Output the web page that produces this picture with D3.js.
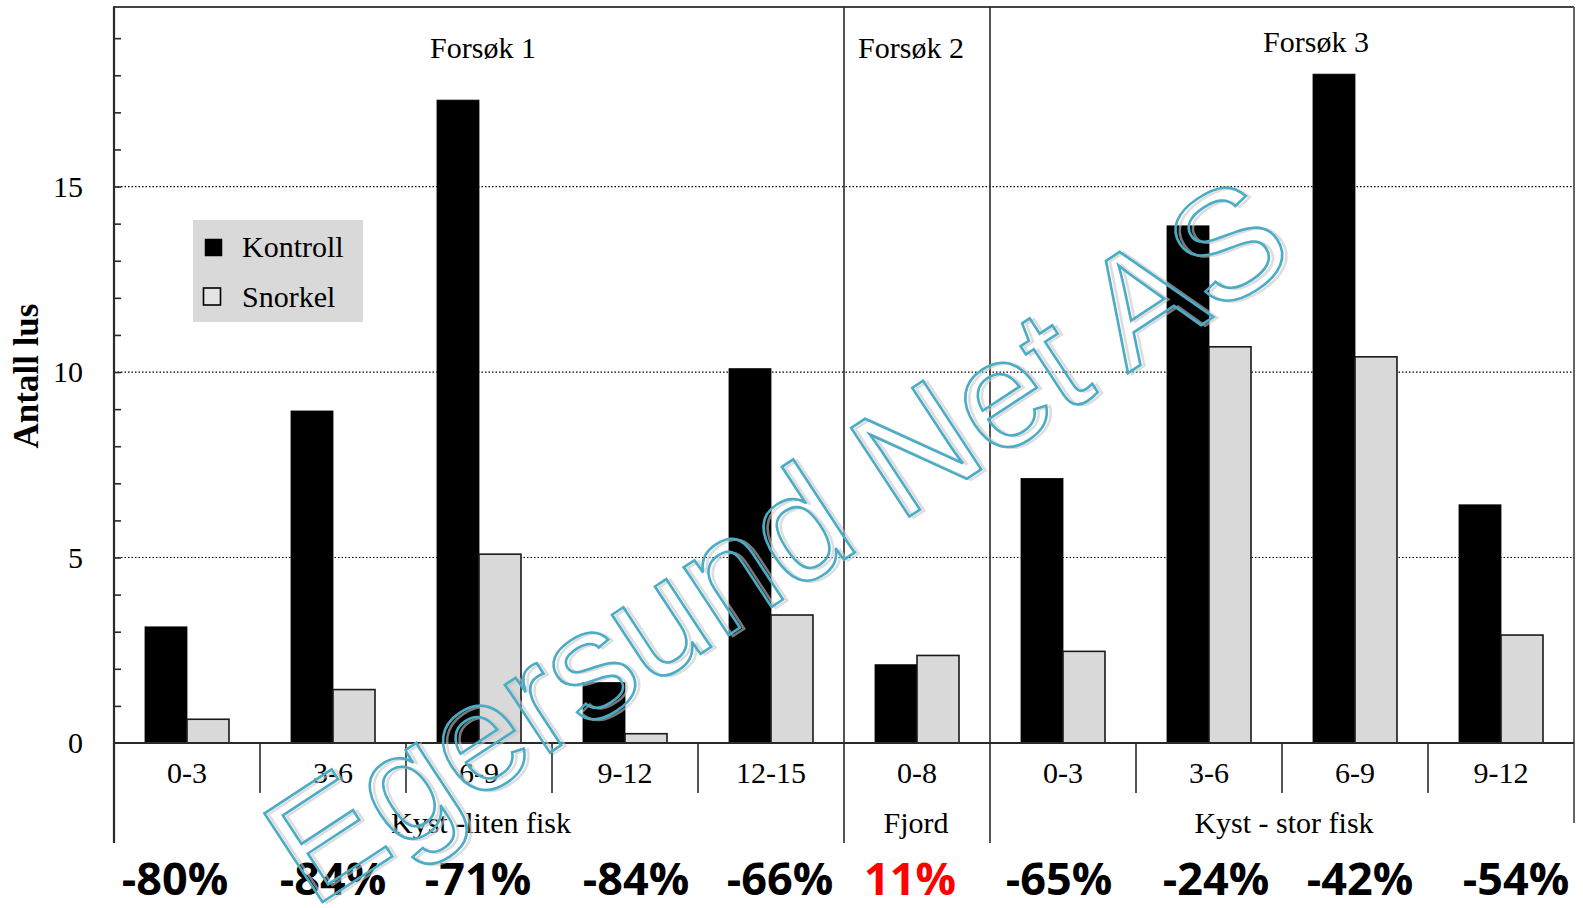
<!DOCTYPE html>
<html>
<head>
<meta charset="utf-8">
<script src="https://cdn.jsdelivr.net/npm/d3@7"></script>
<style>
  html, body { margin: 0; padding: 0; background: #ffffff; }
  svg { display: block; }
</style>
</head>
<body>
<svg id="chart" width="1583" height="908"></svg>
<script>
// ---------- data ----------
const groups = ["Forsøk 1", "Forsøk 2", "Forsøk 3"];
const groupSites = ["Kyst -liten fisk", "Fjord", "Kyst - stor fisk"];
const categories = ["0-3", "3-6", "6-9", "9-12", "12-15", "0-8", "0-3", "3-6", "6-9", "9-12"];
const categoryGroup = [0, 0, 0, 0, 0, 1, 2, 2, 2, 2];
const seriesNames = ["Kontroll", "Snorkel"];
const kontroll = [3.13, 8.95, 17.33, 1.63, 10.09, 2.11, 7.13, 13.94, 18.03, 6.42];
const snorkel = [0.64, 1.44, 5.09, 0.25, 3.45, 2.36, 2.47, 10.68, 10.41, 2.91];
const changes = ["-80%", "-84%", "-71%", "-84%", "-66%", "11%", "-65%", "-24%", "-42%", "-54%"];
const yTicks = [0, 5, 10, 15];
const yMinorTicks = [1, 2, 3, 4, 6, 7, 8, 9, 11, 12, 13, 14, 16, 17, 18, 19];
const watermarkText = "Egersund Net AS";

// ---------- layout ----------
const L = 114, R = 1574, T = 7, B = 743;
const serif = "'Liberation Serif', 'Times New Roman', serif";
const svg = d3.select("#chart");

const x = d3.scaleBand().domain(d3.range(categories.length)).range([L, R]).padding(0);
const xs = d3.scaleBand().domain([0, 1]).range([0, x.bandwidth()]).paddingInner(0).paddingOuter(0.738);
const y = d3.scaleLinear().domain([0, 19.84]).range([B, T]);
const fills = ["#000000", "#d9d9d9"];
const strokes = ["#000000", "#1a1a1a"];

// gridlines
svg.append("g").selectAll("line").data(yTicks.filter(d => d > 0)).join("line")
  .attr("x1", L).attr("x2", R).attr("y1", d => y(d)).attr("y2", d => y(d))
  .attr("stroke", "#000").attr("stroke-width", 1.2).attr("stroke-dasharray", "1.5,2");

// bars
const rows = categories.map((c, i) => [kontroll[i], snorkel[i]]);
const bars = svg.append("g");
rows.forEach((vals, i) => {
  vals.forEach((v, s) => {
    bars.append("rect")
      .attr("x", x(i) + xs(s))
      .attr("y", y(v))
      .attr("width", xs.bandwidth())
      .attr("height", y(0) - y(v))
      .attr("fill", fills[s])
      .attr("stroke", strokes[s])
      .attr("stroke-width", s === 1 ? 1.6 : 0.8);
  });
});

// frame lines
const lineCol = "#2a2a2a";
function ln(x1, y1, x2, y2, w, c) {
  svg.append("line").attr("x1", x1).attr("y1", y1).attr("x2", x2).attr("y2", y2)
    .attr("stroke", c || lineCol).attr("stroke-width", w || 1.6);
}
ln(L - 1, T, R, T, 2.2, "#444");            // top border
ln(L, T, L, 843, 2.2);                       // left axis
ln(R, T, R, 823, 1.8, "#555");              // right border
ln(L, B, R, B, 2);                           // x axis baseline

// separators
categories.forEach((c, i) => {
  if (i === 0) return;
  const xx = x(i);
  if (categoryGroup[i] !== categoryGroup[i - 1]) {
    ln(xx, T, xx, 843, 1.6);
  } else {
    ln(xx, B, xx, 793, 1.6);
  }
});

// y axis labels
const yAxis = d3.axisLeft(y).tickValues(yTicks).tickSize(0).tickPadding(31).tickFormat(d3.format("d"));
const gy = svg.append("g").attr("transform", `translate(${L},0)`).call(yAxis);
gy.select(".domain").remove();
gy.selectAll("text").attr("font-family", serif).attr("font-size", 30).attr("fill", "#000");

// minor ticks (inward)
const yMinor = d3.axisRight(y).tickValues(yMinorTicks.concat([5, 10, 15])).tickSize(7).tickFormat("");
const gm = svg.append("g").attr("transform", `translate(${L},0)`).call(yMinor);
gm.select(".domain").remove();
gm.selectAll("line").attr("stroke", lineCol).attr("stroke-width", 1.6);

// x axis category labels
const xAxis = d3.axisBottom(x).tickSize(0).tickPadding(19).tickFormat(i => categories[i]);
const gx = svg.append("g").attr("transform", `translate(0,${B})`).call(xAxis);
gx.select(".domain").remove();
gx.selectAll("text").attr("font-family", serif).attr("font-size", 30).attr("fill", "#000");

// group centres
const groupCenters = groups.map((g, gi) => {
  const idx = d3.range(categories.length).filter(i => categoryGroup[i] === gi);
  return (x(idx[0]) + x(idx[idx.length - 1]) + x.bandwidth()) / 2;
});
const titleNudge = [4, -6, 34];
const titleBase = [58, 58, 52];
svg.append("g").selectAll("text").data(groups).join("text")
  .attr("x", (d, i) => groupCenters[i] + titleNudge[i])
  .attr("y", (d, i) => titleBase[i])
  .attr("text-anchor", "middle")
  .attr("font-family", serif).attr("font-size", 30).attr("fill", "#000")
  .text(d => d);

svg.append("g").selectAll("text").data(groupSites).join("text")
  .attr("x", (d, i) => groupCenters[i] + (i === 1 ? -1 : 2))
  .attr("y", 833)
  .attr("text-anchor", "middle")
  .attr("font-family", serif).attr("font-size", 30).attr("fill", "#000")
  .text(d => d);

// percentage changes
const pctNudge = [-12, 0, -1, 11, 9, -7, -4, 7, 5, 15];
svg.append("g").selectAll("text").data(changes).join("text")
  .attr("x", (d, i) => x(i) + x.bandwidth() / 2 + pctNudge[i])
  .attr("y", 895)
  .attr("text-anchor", "middle")
  .attr("font-family", "'Open Sans', 'Noto Sans', sans-serif")
  .attr("font-weight", 700).attr("font-size", 45)
  .attr("fill", d => d.startsWith("-") ? "#000" : "#ff0000")
  .text(d => d);

// y axis title
svg.append("text")
  .attr("transform", "translate(38,376) rotate(-90)")
  .attr("text-anchor", "middle")
  .attr("font-family", serif).attr("font-weight", 700).attr("font-size", 35)
  .attr("fill", "#000")
  .text("Antall lus");

// legend
const lg = svg.append("g");
lg.append("rect").attr("x", 193).attr("y", 220).attr("width", 170).attr("height", 102).attr("fill", "#d9d9d9");
seriesNames.forEach((n, s) => {
  lg.append("rect").attr("x", 205 - s * 1.5).attr("y", 239 + s * 49).attr("width", 17).attr("height", 17)
    .attr("fill", s === 0 ? "#000" : "#e4e4e4").attr("stroke", "#000").attr("stroke-width", s === 0 ? 0.5 : 1.6);
  lg.append("text").attr("x", 242).attr("y", 257 + s * 50)
    .attr("font-family", serif).attr("font-size", 30).attr("fill", "#000").text(n);
});

// watermark
const wm = svg.append("g").attr("transform", "translate(312,909) rotate(-33.3)");
wm.append("text").attr("x", 3).attr("y", 3)
  .attr("font-family", "'Liberation Sans', Arial, sans-serif").attr("font-size", 154)
  .attr("fill", "none").attr("stroke", "#c8c8c8").attr("stroke-width", 2.5).attr("opacity", 0.6)
  .text(watermarkText);
wm.append("text").attr("x", 0).attr("y", 0)
  .attr("font-family", "'Liberation Sans', Arial, sans-serif").attr("font-size", 154)
  .attr("fill", "none").attr("stroke", "#4bacc6").attr("stroke-width", 2.6)
  .text(watermarkText);
</script>
</body>
</html>
